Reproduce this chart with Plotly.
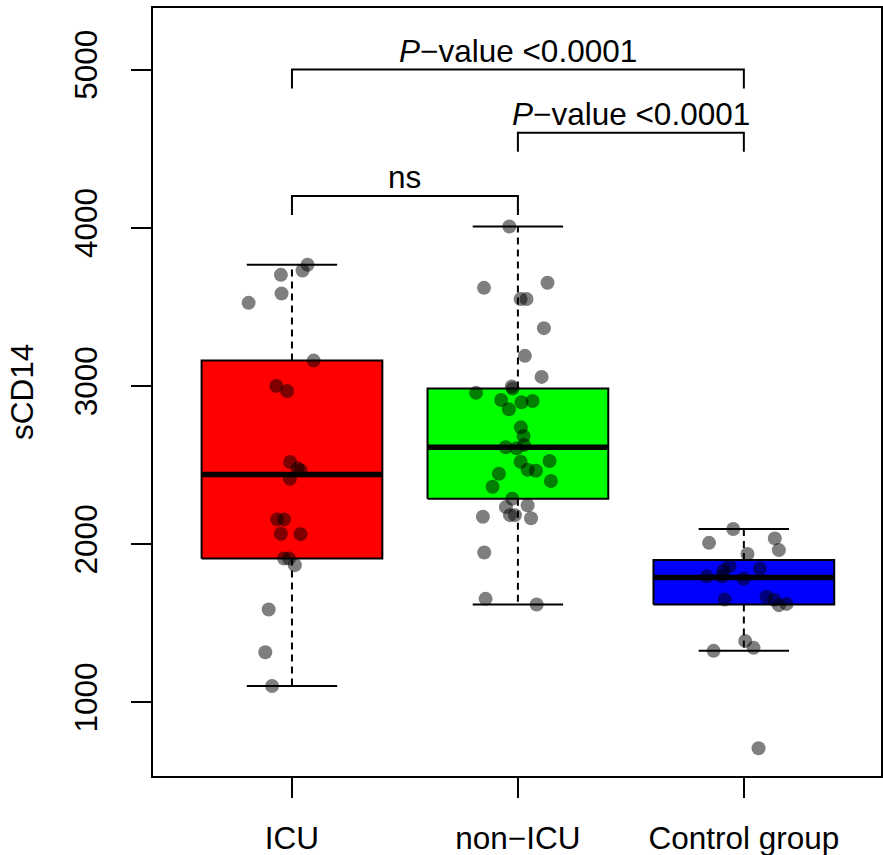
import plotly.graph_objects as go
import numpy as np

# ---------------- data ----------------
groups = ["ICU", "non−ICU", "Control group"]
box_colors = ["#FF0000", "#00FF00", "#0000FF"]

icu_values = [3766, 3730, 3702, 3584, 3525, 3160, 3000, 2968, 2519, 2479, 2466,
              2413, 2156, 2156, 2065, 2063, 1909, 1909, 1867, 1587, 1316, 1103]
icu_jitter = [0.069, 0.047, -0.049, -0.046, -0.192, 0.096, -0.069, -0.021, -0.008,
              0.025, 0.038, -0.009, -0.065, -0.035, -0.049, 0.038, -0.035, -0.013,
              0.013, -0.103, -0.118, -0.088]

nonicu_values = [4008, 3620, 3652, 3549, 3549, 3365, 3190, 3057, 2996, 2983, 2956,
                 2911, 2897, 2905, 2852, 2738, 2684, 2627, 2612, 2606, 2521, 2525,
                 2470, 2464, 2445, 2399, 2363, 2287, 2234, 2245, 2183, 2183, 2163,
                 2173, 1947, 1654, 1618]
nonicu_jitter = [-0.038, -0.150, 0.131, 0.012, 0.038, 0.115, 0.031, 0.105, -0.027,
                 -0.023, -0.185, -0.074, 0.016, 0.065, -0.040, 0.013, 0.025, 0.027,
                 -0.054, -0.006, 0.012, 0.140, 0.043, 0.080, -0.084, 0.146, -0.112,
                 -0.025, -0.053, 0.043, -0.035, -0.013, 0.058, -0.155, -0.149,
                 -0.143, 0.083]

control_values = [2095, 2008, 2036, 1962, 1937, 1861, 1835, 1846, 1796, 1797, 1781,
                  1650, 1667, 1648, 1614, 1622, 1388, 1344, 1325, 709]
control_jitter = [-0.047, -0.154, 0.137, 0.155, 0.016, -0.063, -0.089, 0.071, -0.164,
                  -0.097, -0.001, -0.085, 0.100, 0.134, 0.155, 0.189, 0.006, 0.043,
                  -0.134, 0.065]

y_tick_values = [1000, 2000, 3000, 4000, 5000]
y_title = "sCD14"

# comparisons: (group a, group b, bracket level, label)
comp_a = [1, 2, 1]
comp_b = [3, 3, 2]
comp_level = [5000, 4600, 4200]
comp_label = ["<i>P</i>−value &lt;0.0001", "<i>P</i>−value &lt;0.0001", "ns"]

# ---------------- helpers ----------------
def fivenum(v):
    x = np.sort(np.asarray(v, dtype=float))
    n = len(x)
    n4 = np.floor((n + 3) / 2) / 2
    d = np.array([1, n4, (n + 1) / 2, n + 1 - n4, n]) - 1
    return 0.5 * (x[np.floor(d).astype(int)] + x[np.ceil(d).astype(int)])

def box_stats(v):
    f = fivenum(v)
    iqr = f[3] - f[1]
    arr = np.asarray(v, dtype=float)
    lo = arr[arr >= f[1] - 1.5 * iqr].min()
    hi = arr[arr <= f[3] + 1.5 * iqr].max()
    return lo, f[1], f[2], f[3], hi

FONT = "Liberation Sans, Arial, Helvetica, sans-serif"
FS = 31.5
BOXW = 0.4
CAPW = 0.2
fig = go.Figure()

all_values = [icu_values, nonicu_values, control_values]
all_jitter = [icu_jitter, nonicu_jitter, control_jitter]

for i, (vals, col) in enumerate(zip(all_values, box_colors)):
    c = i + 1
    lo, q1, med, q3, hi = box_stats(vals)
    # whiskers (dashed)
    fig.add_trace(go.Scatter(x=[c, c, None, c, c], y=[q3, hi, None, q1, lo], mode="lines",
                             line=dict(color="black", width=2, dash="7px,5px"),
                             hoverinfo="skip", showlegend=False))
    # caps
    fig.add_trace(go.Scatter(x=[c - CAPW, c + CAPW, None, c - CAPW, c + CAPW],
                             y=[hi, hi, None, lo, lo], mode="lines",
                             line=dict(color="black", width=2),
                             hoverinfo="skip", showlegend=False))
    # box
    fig.add_trace(go.Scatter(x=[c - BOXW, c + BOXW, c + BOXW, c - BOXW, c - BOXW],
                             y=[q1, q1, q3, q3, q1], mode="lines", fill="toself",
                             fillcolor=col, line=dict(color="black", width=2),
                             hoverinfo="skip", showlegend=False))
    # median
    fig.add_trace(go.Scatter(x=[c - BOXW, c + BOXW], y=[med, med], mode="lines",
                             line=dict(color="black", width=5.5),
                             hoverinfo="skip", showlegend=False))

for i, (vals, jit) in enumerate(zip(all_values, all_jitter)):
    c = i + 1
    fig.add_trace(go.Scatter(x=[c + j for j in jit], y=vals, mode="markers",
                             marker=dict(size=14, color="rgba(0,0,0,0.5)", line=dict(width=0)),
                             showlegend=False))

# significance brackets
DROP = 120
for a, b, lev, lab in zip(comp_a, comp_b, comp_level, comp_label):
    fig.add_trace(go.Scatter(x=[a, a, b, b], y=[lev - DROP, lev, lev, lev - DROP],
                             mode="lines", line=dict(color="black", width=2),
                             hoverinfo="skip", showlegend=False))
    fig.add_annotation(x=(a + b) / 2, y=lev, text=lab, showarrow=False,
                       xref="x", yref="y", yanchor="bottom", yshift=-1,
                       font=dict(family=FONT, size=FS, color="black"))

L, R, T, B = 153, 2, 8, 79
pw = 883 - L - R

# y-axis title
fig.add_annotation(x=(22 - L) / pw, y=0.5, xref="paper", yref="paper", text=y_title,
                   showarrow=False, textangle=-90, xanchor="center", yanchor="middle",
                   font=dict(family=FONT, size=FS, color="black"))

fig.update_layout(
    width=883, height=855,
    margin=dict(l=L, r=R, t=T, b=B, autoexpand=False),
    paper_bgcolor="white", plot_bgcolor="white",
    font=dict(family=FONT, size=FS, color="black"),
    showlegend=False,
)

fig.update_xaxes(range=[0.385, 3.607], tickvals=[1, 2, 3], ticktext=groups,
                 ticks="outside", ticklen=20, tickwidth=2, tickcolor="black",
                 showline=True, linecolor="black", linewidth=2, mirror=True,
                 showgrid=False, zeroline=False, automargin=False,
                 ticklabelstandoff=13,
                 tickfont=dict(family=FONT, size=FS, color="black"))
fig.update_yaxes(range=[534, 5389], tickvals=y_tick_values,
                 ticktext=[str(v) for v in y_tick_values],
                 ticks="outside", ticklen=20, tickwidth=2, tickcolor="black",
                 tickangle=-90, automargin=False, ticklabelstandoff=21,
                 showline=True, linecolor="black", linewidth=2, mirror=True,
                 showgrid=False, zeroline=False,
                 tickfont=dict(family=FONT, size=FS, color="black"))

fig.write_html("out.html", config={"displayModeBar": False},
               post_script="document.body.style.margin='0';document.body.style.overflow='hidden';")
